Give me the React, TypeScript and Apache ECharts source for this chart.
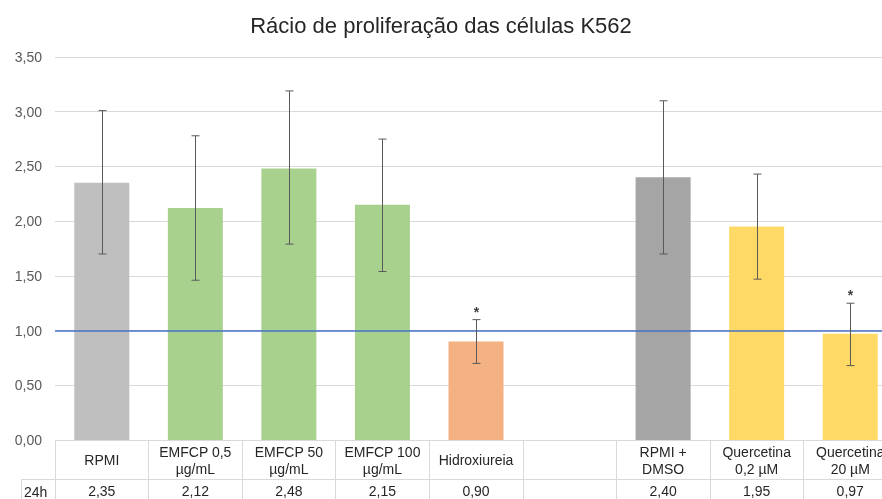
import React, { useEffect, useRef } from "react";
import * as echarts from "echarts";

const title = "Rácio de proliferação das células K562";
const categories = [
  "RPMI",
  "EMFCP 0,5\nµg/mL",
  "EMFCP 50\nµg/mL",
  "EMFCP 100\nµg/mL",
  "Hidroxiureia",
  "",
  "RPMI +\nDMSO",
  "Quercetina\n0,2 µM",
  "Quercetina\n20 µM",
];
const values: (number | null)[] = [2.35, 2.12, 2.48, 2.15, 0.9, null, 2.4, 1.95, 0.97];
const errLow: (number | null)[] = [1.7, 1.46, 1.79, 1.54, 0.7, null, 1.7, 1.47, 0.68];
const errHigh: (number | null)[] = [3.01, 2.78, 3.19, 2.75, 1.1, null, 3.1, 2.43, 1.25];
const significant = [false, false, false, false, true, false, false, false, true];
const barColors = ["#BFBFBF", "#A9D18E", "#A9D18E", "#A9D18E", "#F4B183", "#FFFFFF", "#A5A5A5", "#FFD966", "#FFD966"];
const rowLabel = "24h";
const referenceValue = 1.0;
const yMin = 0;
const yMax = 3.5;
const yInterval = 0.5;

const fmt = (v: number | null) => (v == null ? "" : v.toFixed(2).replace(".", ","));

const FONT = "'Liberation Sans', Arial, sans-serif";

export default function App() {
  const ref = useRef<HTMLDivElement>(null);
  useEffect(() => {
    if (!ref.current) return;
    const chart = echarts.init(ref.current, null, { renderer: "svg" });
    const errData = values.map((v, i) => [i, errLow[i], errHigh[i], significant[i] ? 1 : 0]).filter((d) => d[1] != null);
    chart.setOption({
      animation: false,
      textStyle: { fontFamily: FONT },
      title: {
        text: title,
        left: "center",
        top: 9,
        textStyle: { fontFamily: FONT, fontSize: 22, fontWeight: "normal", color: "#262626" },
      },
      grid: { left: 55, right: -15, top: 57, bottom: 59, containLabel: false, outerBoundsMode: "none" },
      xAxis: [
        {
          type: "category",
          data: categories,
          position: "bottom",
          axisLine: { show: true, lineStyle: { color: "#D9D9D9", width: 1 } },
          axisTick: { show: true, inside: false, length: 59, lineStyle: { color: "#D9D9D9" } },
          axisLabel: {
            interval: 0,
            margin: 20,
            verticalAlign: "middle",
            fontFamily: FONT,
            fontSize: 14,
            lineHeight: 17,
            color: "#262626",
            hideOverlap: false,
          },
        },
        {
          type: "category",
          data: values.map(fmt),
          position: "bottom",
          offset: 39,
          axisLine: { show: true, lineStyle: { color: "#D9D9D9", width: 1 } },
          axisTick: { show: false },
          axisLabel: {
            interval: 0,
            margin: 12,
            verticalAlign: "middle",
            fontFamily: FONT,
            fontSize: 14,
            color: "#262626",
          },
        },
      ],
      yAxis: {
        type: "value",
        min: yMin,
        max: yMax,
        interval: yInterval,
        axisLine: { show: false },
        axisTick: { show: false },
        splitLine: { lineStyle: { color: "#D9D9D9", width: 1 } },
        axisLabel: {
          margin: 13,
          fontFamily: FONT,
          fontSize: 14,
          color: "#595959",
          formatter: (v: number) => fmt(v),
        },
      },
      graphic: [
        { type: "line", shape: { x1: 21, y1: 479.5, x2: 55, y2: 479.5 }, style: { stroke: "#D9D9D9", lineWidth: 1 } },
        { type: "line", shape: { x1: 21.5, y1: 479, x2: 21.5, y2: 499 }, style: { stroke: "#D9D9D9", lineWidth: 1 } },
        {
          type: "text",
          x: 24,
          y: 491.5,
          style: { text: rowLabel, fontFamily: FONT, fontSize: 14, fill: "#262626", verticalAlign: "middle" },
        },
      ],
      series: [
        {
          type: "bar",
          xAxisIndex: 0,
          barWidth: 55,
          data: values.map((v, i) => ({ value: v, itemStyle: { color: barColors[i] } })),
          markLine: {
            silent: true,
            symbol: "none",
            label: { show: false },
            lineStyle: { color: "#4472C4", width: 1.5, type: "solid" },
            data: [{ yAxis: referenceValue }],
          },
          z: 2,
        },
        {
          type: "custom",
          xAxisIndex: 0,
          data: errData,
          encode: { x: 0, y: [1, 2] },
          z: 5,
          renderItem: (params: any, api: any) => {
            const idx = api.value(0);
            const lo = api.coord([idx, api.value(1)]);
            const hi = api.coord([idx, api.value(2)]);
            const x = Math.round(hi[0]) + 0.5;
            const cap = 4;
            const style = { stroke: "#595959", lineWidth: 1 };
            const children: any[] = [
              { type: "line", shape: { x1: x, y1: hi[1], x2: x, y2: lo[1] }, style },
              { type: "line", shape: { x1: x - cap, y1: hi[1], x2: x + cap, y2: hi[1] }, style },
              { type: "line", shape: { x1: x - cap, y1: lo[1], x2: x + cap, y2: lo[1] }, style },
            ];
            if (api.value(3)) {
              children.push({
                type: "text",
                x: x,
                y: hi[1] - 1,
                style: { text: "*", fontFamily: FONT, fontSize: 14, fontWeight: "bold", fill: "#404040", align: "center", verticalAlign: "bottom" },
              });
            }
            return { type: "group", children };
          },
        },
      ],
    });
    return () => chart.dispose();
  }, []);
  return <div ref={ref} style={{ position: "fixed", left: 0, top: 0, width: 882, height: 499 }} />;
}
